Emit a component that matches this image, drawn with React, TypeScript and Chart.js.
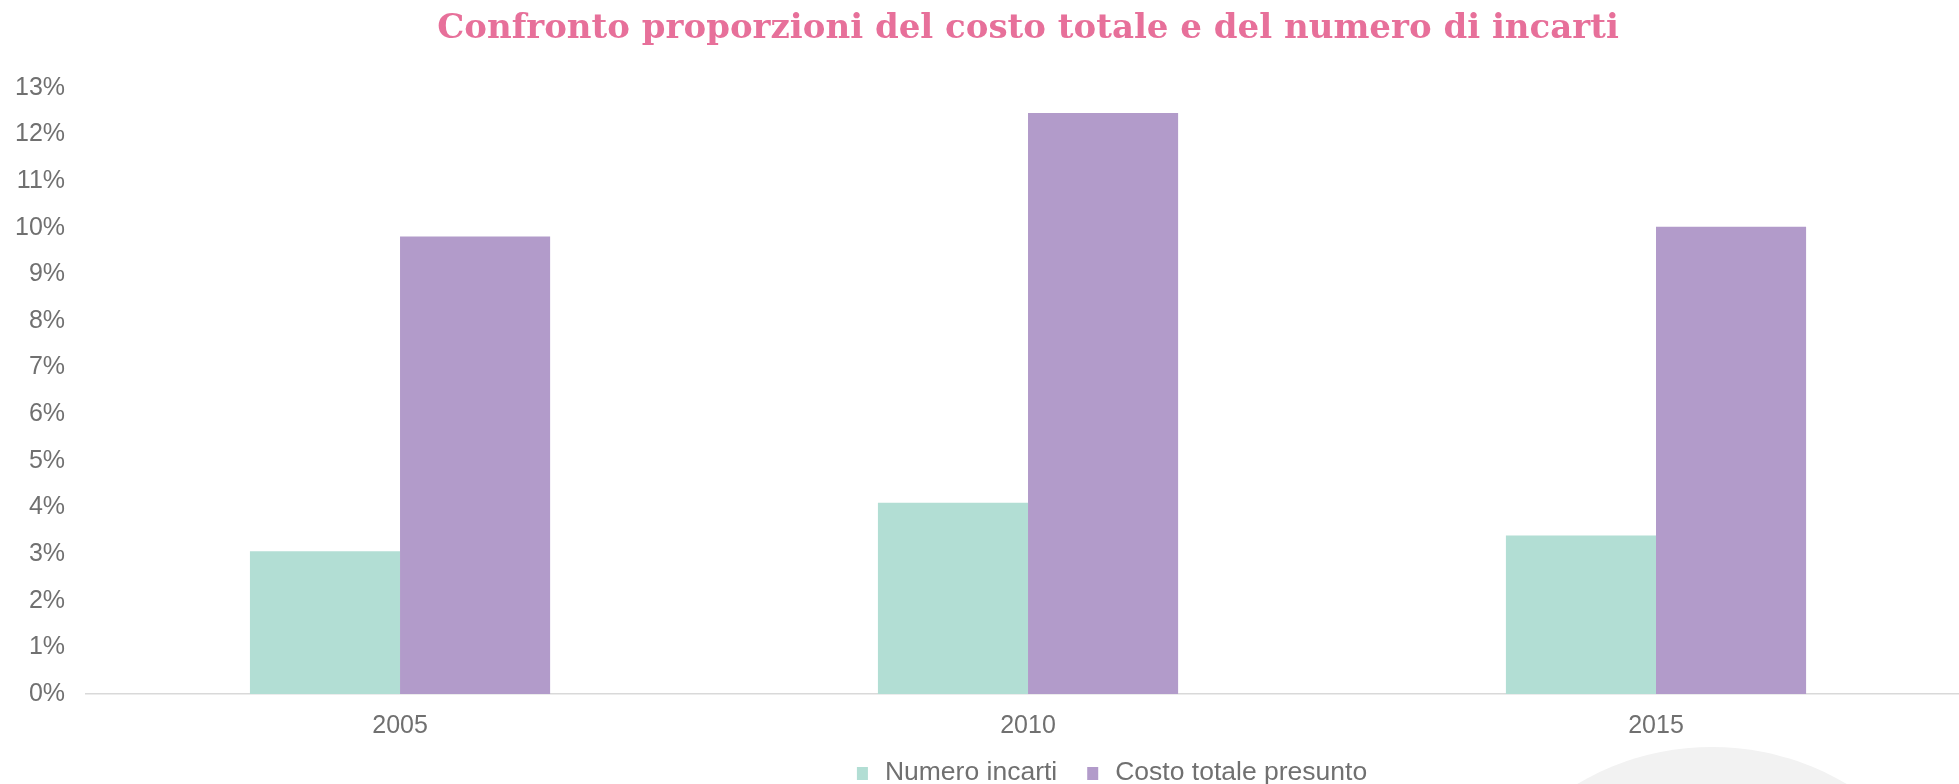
import React, { useEffect, useRef } from "react";
import { Chart, registerables } from "chart.js";

Chart.register(...registerables);

const categories = ["2005", "2010", "2015"];
const numeroIncarti = [3.06, 4.1, 3.4];
const costoTotale = [9.81, 12.46, 10.02];
const seriesLabels = ["Numero incarti", "Costo totale presunto"];
const seriesColors = ["#B2DED4", "#B29BCA"];
const yMax = 13;
const titleText = "Confronto proporzioni del costo totale e del numero di incarti";

const SANS = '"Liberation Sans", Arial, sans-serif';
const TEXT_GRAY = "#707070";

const customLegend = {
  id: "customLegend",
  afterDraw(chart: any) {
    const { ctx, chartArea } = chart;
    const fontSize = 26.5;
    const box = 11;
    const boxGap = 17;
    const itemGap = 30;
    ctx.save();
    ctx.font = `${fontSize}px ${SANS}`;
    const items = chart.data.datasets.map((d: any) => ({
      label: d.label,
      color: d.backgroundColor,
      w: ctx.measureText(d.label).width,
    }));
    let total = 0;
    items.forEach((it: any, i: number) => {
      total += box + boxGap + it.w + (i < items.length - 1 ? itemGap : 0);
    });
    const cx = (chartArea.left + chartArea.right) / 2 + 84;
    let x = cx - total / 2;
    const y = 773;
    ctx.textBaseline = "middle";
    ctx.textAlign = "left";
    items.forEach((it: any) => {
      ctx.fillStyle = it.color;
      ctx.fillRect(x, y - 6, box, 13);
      x += box + boxGap;
      ctx.fillStyle = TEXT_GRAY;
      ctx.fillText(it.label, x, y);
      x += it.w + itemGap;
    });
    ctx.restore();
  },
};

export default function App() {
  const ref = useRef<HTMLCanvasElement>(null);
  useEffect(() => {
    if (!ref.current) return;
    const chart = new Chart(ref.current, {
      type: "bar",
      data: {
        labels: categories,
        datasets: [
          {
            label: seriesLabels[0],
            data: numeroIncarti,
            backgroundColor: seriesColors[0],
            borderWidth: 0,
          },
          {
            label: seriesLabels[1],
            data: costoTotale,
            backgroundColor: seriesColors[1],
            borderWidth: 0,
          },
        ],
      },
      options: {
        responsive: false,
        animation: false,
        layout: { padding: { left: -6, right: 0, top: 0, bottom: 26 } },
        datasets: {
          bar: { categoryPercentage: 0.478, barPercentage: 1 },
        },
        plugins: {
          legend: { display: false },
          tooltip: { enabled: false },
          title: {
            display: true,
            text: titleText,
            fullSize: false,
            color: "#E7709A",
            font: { family: '"DejaVu Serif", Georgia, serif', size: 34, weight: "bold" },
            padding: { top: 9, bottom: 38 },
          },
        },
        scales: {
          x: {
            grid: { display: false, drawTicks: false },
            border: { display: true, color: "#D9D9D9", width: 1.5 },
            ticks: {
              color: TEXT_GRAY,
              font: { family: SANS, size: 25 },
              padding: 17,
            },
          },
          y: {
            min: 0,
            max: yMax,
            grid: { display: false, drawTicks: false },
            border: { display: false },
            ticks: {
              stepSize: 1,
              color: TEXT_GRAY,
              font: { family: SANS, size: 25 },
              padding: 21,
              callback: (v: any) => `${v}%`,
            },
          },
        },
      },
      plugins: [customLegend],
    });
    return () => chart.destroy();
  }, []);

  return (
    <div
      style={{
        position: "fixed",
        left: 0,
        top: 0,
        width: 1959,
        height: 784,
        overflow: "hidden",
        background: "#FFFFFF",
      }}
    >
      <div
        style={{
          position: "absolute",
          left: 1712 - 264,
          top: 1011 - 264,
          width: 528,
          height: 528,
          borderRadius: "50%",
          background: "#F2F2F2",
        }}
      />
      <canvas
        ref={ref}
        width={1970}
        height={784}
        style={{ position: "absolute", left: 0, top: 0, width: 1970, height: 784 }}
      />
    </div>
  );
}
